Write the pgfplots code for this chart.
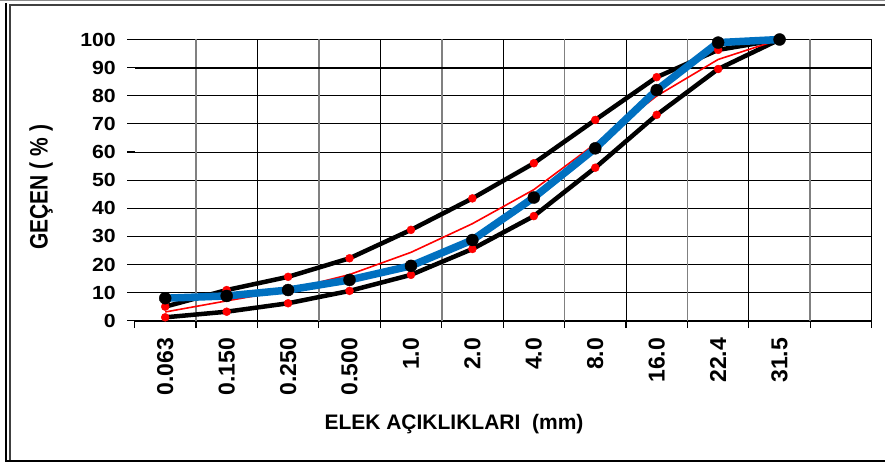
\documentclass[border=0pt]{standalone}
\usepackage{fontspec}
\setmainfont{Liberation Sans}
\usepackage{graphicx}
\usepackage{pgfplots}
\pgfplotsset{compat=1.18}
\definecolor{gblue}{RGB}{0,112,192}

\begin{document}
\begin{tikzpicture}
\useasboundingbox (0pt,0pt) rectangle (885pt,464pt);
% frame
\draw[black!45, line width=1pt] (0pt,463.4pt) -- (885pt,463.4pt);
\draw[black!75, line width=2pt] (9pt,459pt) -- (885pt,459pt);
\draw[black, line width=2pt] (6pt,461pt) -- (6pt,2pt);
\draw[black!75, line width=2pt] (10pt,459pt) -- (10pt,4pt);
\draw[black, line width=2.5pt] (5pt,3pt) -- (885pt,3pt);

\begin{axis}[
    at={(134.5pt,143.3pt)}, anchor=south west,
    scale only axis, width=737.2pt, height=281.2pt,
    xmin=0, xmax=12, ymin=0, ymax=100,
    clip=false,
    axis lines*=left,
    x axis line style={line width=2.2pt,-},
    y axis line style={draw=none},
    tick align=outside,
    major tick length=7.5pt,
    tick style={black, line width=1.2pt},
    xtick={0,...,12}, xticklabels={},
    extra x ticks={0.5,1.5,...,10.5},
    extra x tick labels={0.063,0.150,0.250,0.500,1.0,2.0,4.0,8.0,16.0,22.4,31.5},
    extra x tick style={major tick length=0pt,
        xticklabel style={yshift=-17pt, rotate=90, anchor=east, inner sep=0pt,
            font=\bfseries\fontsize{23}{23}\selectfont}},
    ytick={0,10,...,100},
    ymajorgrids,
    major grid style={black, line width=0.9pt},
    /pgf/number format/assume math mode=true,
    yticklabel={\scalebox{1.12}[1]{\pgfmathprintnumber{\tick}}},
    yticklabel style={anchor=east, inner sep=0pt, xshift=-11pt,
        font=\bfseries\fontsize{19}{19}\selectfont},
    xlabel={ELEK AÇIKLIKLARI\ \ (mm)},
    xlabel style={at={(axis description cs:0.4334,-0.367)}, anchor=center,
        font=\bfseries\fontsize{21}{21}\selectfont},
    ylabel={\scalebox{1}[1.2]{GEÇEN ( \% )}},
    ylabel style={at={(axis description cs:-0.1268,0.475)}, anchor=center,
        font=\bfseries\fontsize{21}{21}\selectfont},
]
% vertical grid lines
\pgfplotsinvokeforeach{1,3,...,11}{\draw[black!50, line width=1.8pt] (axis cs:#1,0) -- (axis cs:#1,100);}
\pgfplotsinvokeforeach{2,4,...,12}{\draw[black, line width=0.9pt] (axis cs:#1,0) -- (axis cs:#1,100);}
\draw[black, line width=2pt] (axis cs:0,90) -- (axis cs:12,90);

% upper limit
\addplot[black, line width=4.5pt, line join=round, mark=*, mark size=4pt,
    mark options={fill=red, draw=red, line width=0.4pt}] coordinates {
    (0.5,5.0) (1.5,10.9) (2.5,15.6) (3.5,22.2) (4.5,32.3) (5.5,43.5)
    (6.5,56.0) (7.5,71.4) (8.5,86.6) (9.5,96.3) (10.5,100)
};
% lower limit
\addplot[black, line width=4.5pt, line join=round, mark=*, mark size=4pt,
    mark options={fill=red, draw=red, line width=0.4pt}] coordinates {
    (0.5,1.2) (1.5,3.2) (2.5,6.2) (3.5,10.6) (4.5,16.3) (5.5,25.5)
    (6.5,37.2) (7.5,54.4) (8.5,73.2) (9.5,89.5) (10.5,100)
};
% middle
\addplot[red, line width=1.6pt, line join=round, no marks] coordinates {
    (0.5,3.1) (1.5,7.05) (2.5,10.9) (3.5,16.4) (4.5,24.3) (5.5,34.5)
    (6.5,46.6) (7.5,62.9) (8.5,79.9) (9.5,92.9) (10.5,100)
};
% gradation
\addplot[gblue, line width=7.5pt, line join=round, mark=*, mark size=6pt,
    mark options={fill=black, draw=black, line width=0.4pt}] coordinates {
    (0.5,8.0) (1.5,8.8) (2.5,10.9) (3.5,14.5) (4.5,19.5) (5.5,28.7)
    (6.5,43.8) (7.5,61.3) (8.5,82.0) (9.5,98.9) (10.5,100)
};
\end{axis}
\end{tikzpicture}
\end{document}
